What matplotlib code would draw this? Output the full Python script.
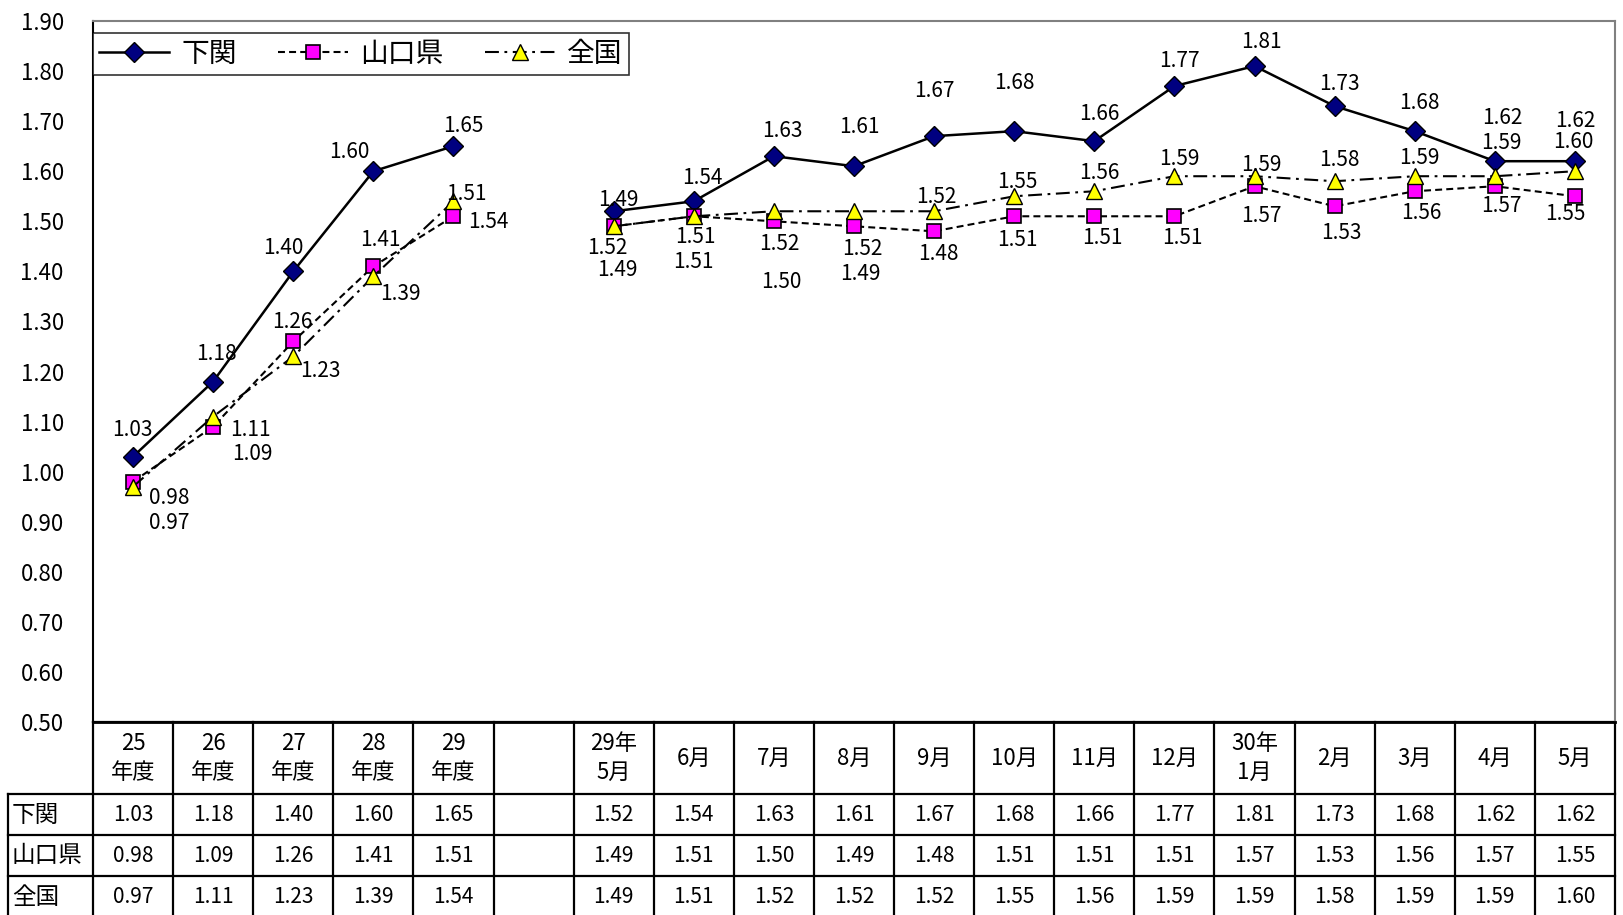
import matplotlib
matplotlib.use('Agg')
import matplotlib.pyplot as plt
from matplotlib.transforms import blended_transform_factory
import numpy as np

plt.rcParams['font.family'] = ['Noto Sans CJK JP', 'DejaVu Sans']
plt.rcParams['lines.scale_dashes'] = False

nan = np.nan
cats = ['25\n年度', '26\n年度', '27\n年度', '28\n年度', '29\n年度', '',
        '29年\n5月', '6月', '7月', '8月', '9月', '10月', '11月', '12月',
        '30年\n1月', '2月', '3月', '4月', '5月']
series_names = ['下関', '山口県', '全国']
shimonoseki = [1.03, 1.18, 1.40, 1.60, 1.65, nan, 1.52, 1.54, 1.63, 1.61,
               1.67, 1.68, 1.66, 1.77, 1.81, 1.73, 1.68, 1.62, 1.62]
yamaguchi = [0.98, 1.09, 1.26, 1.41, 1.51, nan, 1.49, 1.51, 1.50, 1.49,
             1.48, 1.51, 1.51, 1.51, 1.57, 1.53, 1.56, 1.57, 1.55]
zenkoku = [0.97, 1.11, 1.23, 1.39, 1.54, nan, 1.49, 1.51, 1.52, 1.52,
           1.52, 1.55, 1.56, 1.59, 1.59, 1.58, 1.59, 1.59, 1.60]

# label offsets in pixels (dx, dy), as placed in the original sheet
off_shim = [(-1, 27), (3, 28), (-10, 23), (-24, 19), (10, 20), (0, 0), (-6, -37),
            (9, 23), (8, 25), (5, 39), (0, 45), (0, 48), (5, 27), (5, 25), (7, 24),
            (5, 22), (5, 28), (7, 43), (0, 40)]
off_yama = [(36, -16), (39, -27), (-1, 19), (7, 26), (13, 22), (0, 0), (4, -44),
            (0, -46), (7, -61), (6, -48), (4, -23), (3, -24), (8, -22), (8, -22),
            (7, -30), (7, -27), (7, -22), (7, -20), (-10, -18)]
off_zen = [(36, -36), (37, -13), (27, -15), (27, -18), (35, -21), (0, 0), (5, 26),
           (2, -21), (5, -33), (8, -38), (2, 14), (3, 14), (5, 18), (5, 17), (7, 11),
           (5, 21), (5, 18), (7, 33), (-2, 29)]

W, H = 1624, 915
fig = plt.figure(figsize=(W / 100, H / 100), dpi=100)
left_px, right_px, top_px, bot_px = 93, 1615, 21, 722
ax = fig.add_axes([left_px / W, 1 - bot_px / H, (right_px - left_px) / W, (bot_px - top_px) / H])

x = np.arange(len(cats))
styles = [
    dict(color='black', lw=1.8, ls='-', marker='D', ms=10, mfc='#000080', mec='black', mew=1),
    dict(color='black', lw=1.5, ls=(0, (5, 3)), marker='s', ms=10.5, mfc='#FF00FF', mec='black', mew=1.2),
    dict(color='black', lw=1.5, ls=(0, (10, 4, 2, 4)), marker='^', ms=11, mfc='#FFFF00', mec='black', mew=1),
]
data = [shimonoseki, yamaguchi, zenkoku]
offsets = [off_shim, off_yama, off_zen]
for name, vals, st, offs in zip(series_names, data, styles, offsets):
    ax.plot(x, vals, label=name, clip_on=False, **st)
    for xi, v, (dx, dy) in zip(x, vals, offs):
        if np.isnan(v):
            continue
        ax.annotate(f'{v:.2f}', (xi, v), xytext=(dx, dy), textcoords='offset pixels',
                    ha='center', va='center', fontsize=15)

ax.set_xlim(-0.5, len(cats) - 0.5)
ax.set_ylim(0.5, 1.9)
ax.set_xticks([])
yt = np.arange(0.5, 1.91, 0.1)
ax.set_yticks(yt)
ax.set_yticklabels([f'{t:.2f}' for t in yt])
ax.tick_params(axis='y', length=0, pad=21, labelsize=16)
ax.spines['top'].set_color('#808080')
ax.spines['right'].set_color('#808080')
ax.spines['left'].set_linewidth(1.5)
ax.spines['bottom'].set_linewidth(2)
for s in ['top', 'right']:
    ax.spines[s].set_linewidth(1.5)

leg = ax.legend(loc='upper left', bbox_to_anchor=(0, 1 - 12 / 701), borderaxespad=0,
                ncol=3, fontsize=20, frameon=True, fancybox=False, edgecolor='black',
                handlelength=2.5, columnspacing=1.5, handletextpad=0.45, borderpad=0.22)
leg.get_frame().set_linewidth(1.2)

# data table under the plot
trans = blended_transform_factory(ax.transData, fig.transFigure)
colw = (right_px - left_px) / len(cats)
xl = -0.5 - (left_px - 8) / colw
xr = len(cats) - 0.5
fy = lambda p: 1 - p / H
rows_px = [722, 794, 835, 876]
ax.plot([-0.5, xr], [fy(rows_px[0])] * 2, color='black', lw=1.6, transform=trans, clip_on=False)
for r in rows_px[1:]:
    ax.plot([xl, xr], [fy(r)] * 2, color='black', lw=1.6, transform=trans, clip_on=False)
for i in range(len(cats) + 1):
    ax.plot([i - 0.5] * 2, [fy(722), fy(930)], color='black', lw=1.6, transform=trans, clip_on=False)
ax.plot([xl] * 2, [fy(794), fy(930)], color='black', lw=1.6, transform=trans, clip_on=False)

for xi, c in zip(x, cats):
    ax.text(xi, fy(758), c, transform=trans, ha='center', va='center', fontsize=16,
            linespacing=1.3)
row_centers = [815, 856, 897]
for name, vals, yc in zip(series_names, data, row_centers):
    ax.text(-0.5 - (left_px - 12) / colw, fy(yc), name, transform=trans, ha='left',
            va='center', fontsize=17)
    for xi, v in zip(x, vals):
        if np.isnan(v):
            continue
        ax.text(xi, fy(yc), f'{v:.2f}', transform=trans, ha='center', va='center', fontsize=15)

fig.savefig('out.png', dpi=100)
